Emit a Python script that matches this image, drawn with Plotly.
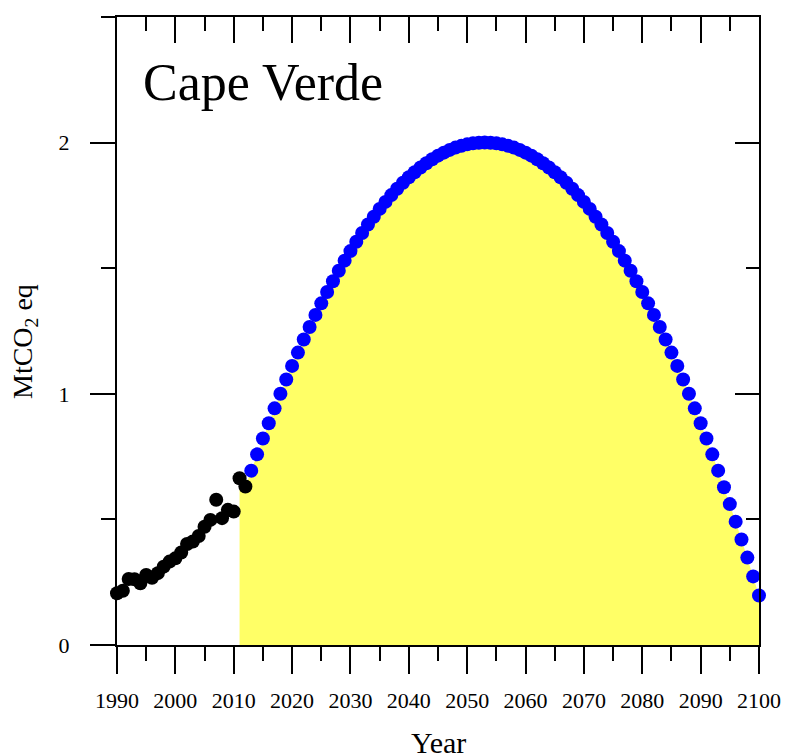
import plotly.graph_objects as go

# ---------------- data ----------------
hist_years = list(range(1990, 2013))
hist_vals = [0.206, 0.216, 0.263, 0.262, 0.246, 0.279, 0.268, 0.286, 0.312, 0.332,
             0.345, 0.368, 0.402, 0.412, 0.434, 0.471, 0.498, 0.578, 0.505, 0.538,
             0.531, 0.664, 0.631]

proj_years = list(range(2013, 2101))
proj_vals = [0.694, 0.759, 0.822, 0.883, 0.942, 1.000, 1.057, 1.111, 1.164, 1.216,
             1.266, 1.314, 1.360, 1.405, 1.448, 1.490, 1.530, 1.568, 1.605, 1.640,
             1.674, 1.705, 1.736, 1.764, 1.791, 1.816, 1.840, 1.862, 1.882, 1.901,
             1.918, 1.934, 1.948, 1.960, 1.971, 1.980, 1.987, 1.993, 1.997, 1.999,
             2.000, 1.999, 1.997, 1.993, 1.987, 1.980, 1.971, 1.960, 1.948, 1.934,
             1.918, 1.901, 1.882, 1.862, 1.840, 1.816, 1.791, 1.764, 1.736, 1.705,
             1.674, 1.640, 1.605, 1.568, 1.530, 1.490, 1.448, 1.405, 1.360, 1.314,
             1.266, 1.216, 1.164, 1.111, 1.057, 1.000, 0.942, 0.883, 0.822, 0.759,
             0.694, 0.628, 0.561, 0.491, 0.420, 0.348, 0.273, 0.197]

fill_years = hist_years[-2:] + proj_years
fill_vals = hist_vals[-2:] + proj_vals

title_text = "Cape Verde"
x_title = "Year"
y_title = "MtCO<sub>2</sub> eq"

FONT = "Liberation Serif, Times New Roman, serif"

fig = go.Figure()

fig.add_trace(go.Scatter(
    x=fill_years, y=fill_vals, mode="lines", fill="tozeroy",
    fillcolor="#FFFF66", line=dict(width=0, color="#FFFF66"),
    hoverinfo="skip", showlegend=False))

fig.add_trace(go.Scatter(
    x=hist_years, y=hist_vals, mode="markers",
    marker=dict(size=14, color="black", line=dict(width=0)),
    cliponaxis=False, showlegend=False))

fig.add_trace(go.Scatter(
    x=proj_years, y=proj_vals, mode="markers",
    marker=dict(size=14, color="#0000FF", line=dict(width=0)),
    cliponaxis=False, showlegend=False))

# dummy trace for the mirrored axes
fig.add_trace(go.Scatter(x=[None], y=[None], xaxis="x2", yaxis="y2",
                         mode="lines", showlegend=False, hoverinfo="skip"))

common = dict(showgrid=False, zeroline=False, showline=True, linewidth=2,
              linecolor="black", tickwidth=2, tickcolor="black")

fig.update_layout(
    width=785, height=753,
    margin=dict(l=117, r=26, t=17, b=108, autoexpand=False),
    paper_bgcolor="white", plot_bgcolor="white",
    xaxis=dict(range=[1990, 2100], tickmode="linear", tick0=1990, dtick=10,
               ticks="outside", ticklen=27, ticklabelstandoff=8,
               tickfont=dict(family=FONT, size=22, color="black"),
               minor=dict(dtick=5, tick0=1990, ticks="outside", ticklen=14,
                          tickwidth=2, tickcolor="black"),
               **common),
    yaxis=dict(range=[0, 2.5], tickmode="linear", tick0=0, dtick=1,
               ticks="outside", ticklen=25, ticklabelstandoff=16,
               tickfont=dict(family=FONT, size=22, color="black"),
               minor=dict(dtick=0.5, tick0=0, ticks="outside", ticklen=14,
                          tickwidth=2, tickcolor="black"),
               **common),
    xaxis2=dict(range=[1990, 2100], overlaying="x", side="top", anchor="y2",
                tickmode="linear", tick0=1990, dtick=10, ticks="inside",
                ticklen=26, showticklabels=False,
                minor=dict(dtick=5, tick0=1990, ticks="inside", ticklen=14,
                           tickwidth=2, tickcolor="black"),
                **common),
    yaxis2=dict(range=[0, 2.5], overlaying="y", side="right", anchor="x2",
                tickmode="linear", tick0=0, dtick=1, ticks="inside",
                ticklen=24, showticklabels=False,
                minor=dict(dtick=0.5, tick0=0, ticks="inside", ticklen=13,
                           tickwidth=2, tickcolor="black"),
                **common),
    annotations=[
        dict(text=title_text, xref="paper", yref="paper", x=0.038, y=0.895,
             xanchor="left", yanchor="middle", showarrow=False,
             font=dict(family=FONT, size=52, color="black")),
        dict(text=x_title, xref="paper", yref="paper", x=0.5, y=-0.1545,
             xanchor="center", yanchor="middle", showarrow=False,
             font=dict(family=FONT, size=30, color="black")),
        dict(text=y_title, xref="paper", yref="paper", x=-0.1433, y=0.4825,
             xanchor="center", yanchor="middle", textangle=-90, showarrow=False,
             font=dict(family=FONT, size=28, color="black")),
    ],
    shapes=[
        dict(type="line", xref="paper", yref="paper", x0=-0.0187, x1=0.0,
             y0=1, y1=1, line=dict(color="black", width=2)),
    ],
)

fig.write_html("out.html",
               config={"displayModeBar": False},
               post_script="document.body.style.margin='0';"
                           "document.body.style.overflow='hidden';")
